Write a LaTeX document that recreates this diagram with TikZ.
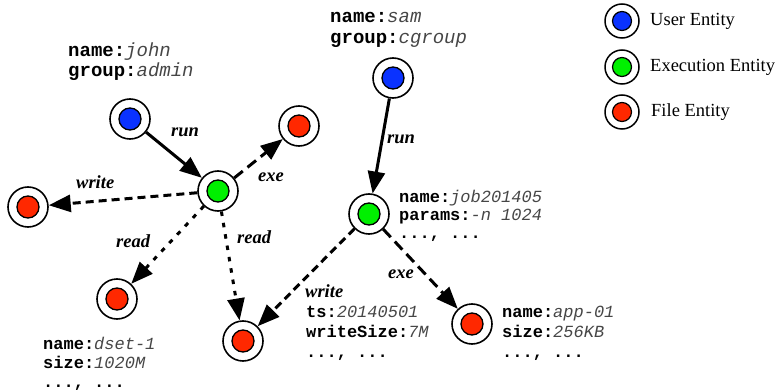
\documentclass[tikz,border=0pt]{standalone}
\usepackage{fontspec}
\setmainfont{Liberation Serif}
\newfontfamily\monof{Liberation Mono}
\usetikzlibrary{arrows.meta}
\definecolor{ublue}{RGB}{10,50,255}
\definecolor{egreen}{RGB}{0,240,0}
\definecolor{fred}{RGB}{255,40,0}
\definecolor{valgray}{RGB}{70,70,70}
\newcommand\kv[2]{{\bfseries #1:}{\itshape\color{valgray}#2}}
\begin{document}
\begin{tikzpicture}[x=1pt,y=-1pt,
  ent/.style={circle, draw, line width=1.6pt, fill=white, minimum size=40pt, inner sep=0pt,
    path picture={\draw[line width=1.3pt, fill=#1] (path picture bounding box.center) circle (11pt);}},
  legent/.style={circle, draw, line width=1.5pt, fill=white, minimum size=34pt, inner sep=0pt,
    path picture={\draw[line width=1.2pt, fill=#1] (path picture bounding box.center) circle (9.5pt);}},
  rel/.style={line width=3pt, -{Triangle[length=22pt,width=17pt]}},
  longdash/.style={rel, dash pattern=on 11pt off 6pt},
  meddash/.style={rel, dash pattern=on 8pt off 5pt},
  dotdash/.style={rel, dash pattern=on 4.5pt off 7pt},
  elab/.style={anchor=base west, inner sep=0pt, font=\fontsize{18.5}{22}\selectfont\bfseries\itshape},
  attr/.style={anchor=base west, inner sep=0pt, font=\fontsize{17}{20}\selectfont\monof},
  uattr/.style={anchor=base west, inner sep=0pt, font=\fontsize{19}{22}\selectfont\monof},
  legtxt/.style={anchor=base west, inner sep=0pt, font=\fontsize{18.5}{22}\selectfont}
]
\useasboundingbox (0,0) rectangle (778,390);

% entities
\node[ent=ublue] (u1) at (130,119) {};
\node[ent=egreen] (e1) at (218,191) {};
\node[ent=fred] (fx1) at (299,126) {};
\node[ent=fred] (fw1) at (28,207) {};
\node[ent=fred] (fr1) at (117,299) {};
\node[ent=fred] (fs) at (243,341) {};
\node[ent=ublue] (u2) at (393,78) {};
\node[ent=egreen] (e2) at (369,214) {};
\node[ent=fred] (fa) at (472,324) {};

% edges
\draw[rel] (u1) -- (e1);
\draw[longdash] (e1) -- (fx1);
\draw[meddash] (e1) -- (fw1);
\draw[dotdash] (e1) -- (fr1);
\draw[dotdash] (e1) -- (fs);
\draw[rel] (u2) -- (e2);
\draw[meddash] (e2) -- (fs);
\draw[longdash] (e2) -- (fa);

% edge labels
\node[elab] (lrun1) at (171,137) {run};
\node[elab] (lexe1) at (258,182) {exe};
\node[elab] (lwrite1) at (76,188) {write};
\node[elab] (lread1) at (116,247) {read};
\node[elab] (lread2) at (237,243) {read};
\node[elab] (lrun2) at (387,144) {run};
\node[elab] (lexe2) at (388,278) {exe};
\node[elab] (lwrite2) at (305,297) {write};

% attributes
\node[uattr] (a1) at (68,57) {\kv{name}{john}};
\node[uattr] (a2) at (68,77) {\kv{group}{admin}};
\node[uattr] (a3) at (330,23) {\kv{name}{sam}};
\node[uattr] (a4) at (330,44) {\kv{group}{cgroup}};
\node[attr] (a5) at (399,202) {\kv{name}{job201405}};
\node[attr] (a6) at (399,220) {\kv{params}{-n 1024}};
\node[attr] (a7) at (399,238) {\bfseries ..., ...};
\node[attr] (a8) at (306,317) {\kv{ts}{20140501}};
\node[attr] (a9) at (306,337) {\kv{writeSize}{7M}};
\node[attr] (a10) at (306,357) {\bfseries ..., ...};
\node[attr] (a11) at (43,349) {\kv{name}{dset-1}};
\node[attr] (a12) at (43,368) {\kv{size}{1020M}};
\node[attr] (a13) at (43,387) {\bfseries ..., ...};
\node[attr] (a14) at (502,317) {\kv{name}{app-01}};
\node[attr] (a15) at (502,337) {\kv{size}{256KB}};
\node[attr] (a16) at (502,357) {\bfseries ..., ...};

% legend
\node[legent=ublue] (lg1) at (622,21) {};
\node[legent=egreen] (lg2) at (622,67) {};
\node[legent=fred] (lg3) at (622,112) {};
\node[legtxt] (lt1) at (650,26) {User Entity};
\node[legtxt] (lt2) at (650,72) {Execution Entity};
\node[legtxt] (lt3) at (651,117) {File Entity};
\end{tikzpicture}
\end{document}
